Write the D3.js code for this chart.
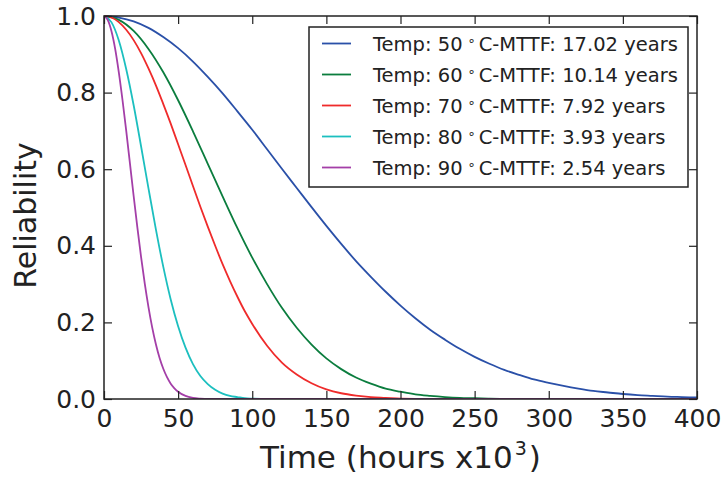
<!DOCTYPE html>
<html><head><meta charset="utf-8">
<script src="https://cdn.jsdelivr.net/npm/d3@7"></script>
<style>
html,body{margin:0;padding:0;background:#fff;}
text{font-family:"DejaVu Sans",sans-serif;fill:#222;}
</style></head>
<body><svg id="chart" width="726" height="480"></svg>
<script>
// Time in thousands of hours
const tBlue = [0,10,20,30,40,50,60,70,80,90,100,110,120,130,140,150,160,170,180,190,200,210,220,230,240,250,260,270,280,290,300,310,320,330,340,350,360,370,380,390,400];
const rBlue = [1,0.996,0.986,0.969,0.945,0.916,0.881,0.841,0.798,0.751,0.703,0.652,0.601,0.551,0.501,0.452,0.405,0.360,0.319,0.280,0.244,0.211,0.181,0.155,0.131,0.110,0.092,0.076,0.063,0.051,0.042,0.034,0.027,0.021,0.017,0.013,0.010,0.008,0.006,0.005,0.004];
const tGreen = [0,10,20,30,40,50,60,70,80,90,100,110,120,130,140,150,160,170,180,190,200,210,220,230,240,250,260,280,300,400];
const rGreen = [1,0.990,0.961,0.914,0.853,0.780,0.699,0.614,0.529,0.446,0.369,0.300,0.238,0.186,0.142,0.106,0.078,0.056,0.040,0.027,0.019,0.012,0.008,0.005,0.003,0.002,0.001,0,0,0];
const tRed = [0,5,10,15,20,25,30,35,40,45,50,55,60,65,70,75,80,85,90,95,100,110,120,130,140,150,160,170,180,190,200,220,400];
const rRed = [1,0.996,0.984,0.964,0.937,0.903,0.863,0.819,0.770,0.719,0.665,0.611,0.556,0.502,0.450,0.400,0.352,0.308,0.267,0.229,0.196,0.139,0.095,0.064,0.041,0.025,0.015,0.009,0.005,0.003,0.001,0,0];
const tCyan = [0,5,10,15,20,25,30,35,40,45,50,55,60,65,70,75,80,85,90,95,100,110,400];
const rCyan = [1,0.984,0.936,0.861,0.767,0.660,0.550,0.443,0.345,0.260,0.190,0.134,0.091,0.060,0.039,0.024,0.014,0.008,0.005,0.002,0.001,0,0];
const tPurple = [0,2.5,5,7.5,10,12.5,15,17.5,20,22.5,25,27.5,30,32.5,35,37.5,40,42.5,45,47.5,50,55,60,65,70,400];
const rPurple = [1,0.990,0.961,0.915,0.853,0.780,0.700,0.615,0.530,0.448,0.371,0.301,0.240,0.187,0.143,0.107,0.079,0.057,0.040,0.028,0.019,0.008,0.003,0.001,0,0];

const temps = ["50","60","70","80","90"];
const mttf = ["17.02","10.14","7.92","3.93","2.54"];
const colors = ["#2a50a8","#0b7d3e","#ef2b2b","#1cbfbf","#a43fa8"];
const xTicks = [0,50,100,150,200,250,300,350,400];
const yTicks = [0,0.2,0.4,0.6,0.8,1.0];

const seriesT = [tBlue,tGreen,tRed,tCyan,tPurple];
const seriesR = [rBlue,rGreen,rRed,rCyan,rPurple];

const L=104, R=697, T=16, B=399;
const svg = d3.select("#chart");
const x = d3.scaleLinear().domain([0,400]).range([L,R]);
const y = d3.scaleLinear().domain([0,1]).range([B,T]);

svg.append("defs").append("clipPath").attr("id","clip")
  .append("rect").attr("x",L).attr("y",T-2).attr("width",R-L).attr("height",B-T+2);

const line = d3.line().x(d=>x(d[0])).y(d=>y(d[1])).curve(d3.curveMonotoneX);
const g = svg.append("g").attr("clip-path","url(#clip)");
seriesT.forEach((ts,i)=>{
  const pts = ts.map((t,j)=>[t, seriesR[i][j]]);
  g.append("path").datum(pts).attr("d",line).attr("fill","none")
   .attr("stroke",colors[i]).attr("stroke-width",1.8);
});

// axes (inward ticks on all sides)
const tickLen = 8;
const axB = d3.axisBottom(x).tickValues(xTicks).tickSizeInner(-tickLen).tickSizeOuter(0).tickPadding(10).tickFormat(d3.format("d"));
const axT = d3.axisTop(x).tickValues(xTicks).tickSizeInner(-tickLen).tickSizeOuter(0).tickFormat("");
const axLf = d3.axisLeft(y).tickValues(yTicks).tickSizeInner(-tickLen).tickSizeOuter(0).tickPadding(8).tickFormat(d3.format(".1f"));
const axRt = d3.axisRight(y).tickValues(yTicks).tickSizeInner(-tickLen).tickSizeOuter(0).tickFormat("");

function style(sel){
  sel.select(".domain").remove();
  sel.selectAll(".tick line").attr("stroke","#222").attr("stroke-width",1.2);
  sel.selectAll(".tick text").style("font-size","25px").attr("fill","#222");
}
svg.append("g").attr("transform",`translate(0,${B})`).call(axB).call(style);
svg.append("g").attr("transform",`translate(0,${T})`).call(axT).call(style);
svg.append("g").attr("transform",`translate(${L},0)`).call(axLf).call(style);
svg.append("g").attr("transform",`translate(${R},0)`).call(axRt).call(style);

svg.selectAll("g text").attr("font-family","DejaVu Sans");

// frame
svg.append("rect").attr("x",L).attr("y",T).attr("width",R-L).attr("height",B-T)
  .attr("fill","none").attr("stroke","#222").attr("stroke-width",1.5);

// axis labels
const xl = svg.append("text").attr("x",(L+R)/2).attr("y",468).attr("text-anchor","middle")
  .style("font-size","31px");
xl.append("tspan").text("Time (hours x10");
xl.append("tspan").attr("dx",2).attr("dy",-13).style("font-size","19px").text("3");
xl.append("tspan").attr("dx",2).attr("dy",13).text(")");

svg.append("text").attr("transform",`translate(36,${(T+B)/2+8}) rotate(-90)`)
  .attr("text-anchor","middle").style("font-size","30px").text("Reliability");

// legend
const lg = svg.append("g");
lg.append("rect").attr("x",309).attr("y",27).attr("width",379).attr("height",160)
  .attr("fill","#fff").attr("stroke","#222").attr("stroke-width",1.5);
temps.forEach((tp,i)=>{
  const cy = 43.5 + i*31;
  lg.append("line").attr("x1",322).attr("x2",351).attr("y1",cy).attr("y2",cy)
    .attr("stroke",colors[i]).attr("stroke-width",1.8);
  const t = lg.append("text").attr("x",373).attr("y",cy+7).style("font-size","19.5px");
  t.append("tspan").text("Temp: "+tp);
  t.append("tspan").attr("dx",5).attr("dy",-6).style("font-size","13px").text("∘");
  t.append("tspan").attr("dx",3).attr("dy",6).text("C-MTTF: "+mttf[i]+" years");
});
</script>
</body></html>
